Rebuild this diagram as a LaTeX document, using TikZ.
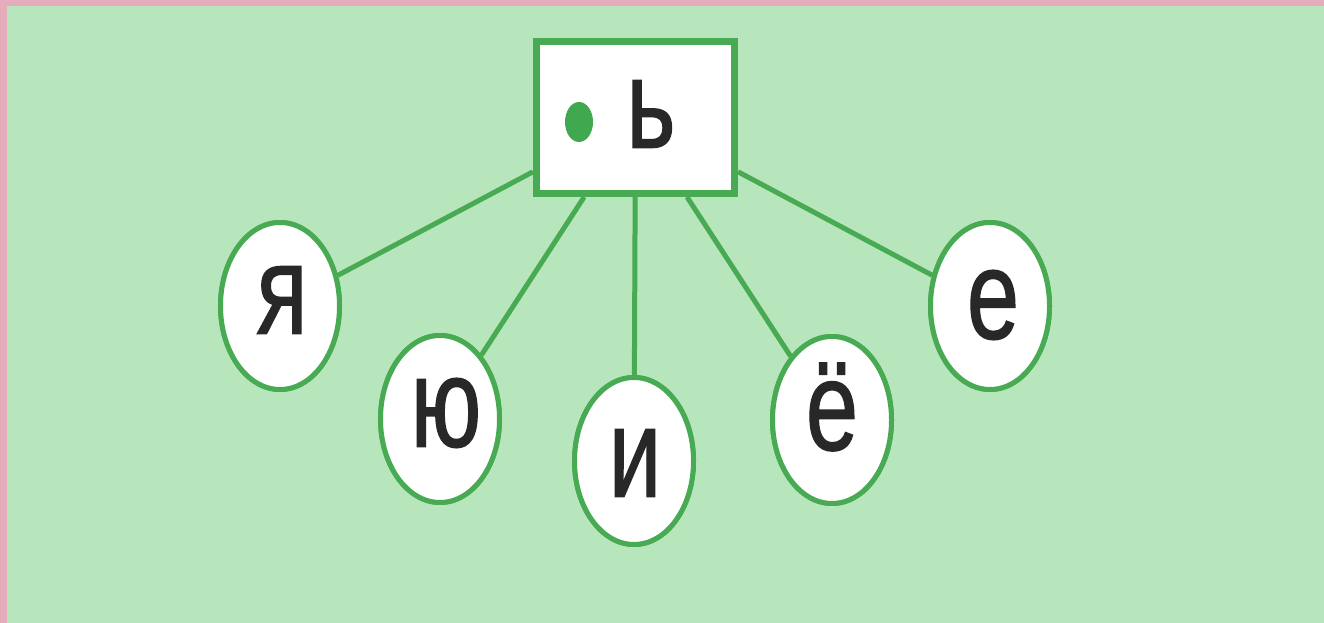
\documentclass[tikz,border=0pt]{standalone}
\usepackage{fontspec}
\setmainfont{Liberation Sans}
\newfontfamily\letterfont{Liberation Sans}[FakeBold=1.2]
\usetikzlibrary{shapes.geometric}
\definecolor{bggreen}{RGB}{184,230,188}
\definecolor{pinkedge}{RGB}{230,172,188}
\definecolor{linegreen}{RGB}{72,170,82}
\definecolor{dotgreen}{RGB}{64,168,78}
\definecolor{ink}{RGB}{40,40,40}
\tikzset{
  vowel/.style={ellipse, draw=linegreen, line width=5pt, fill=white,
    minimum width=119pt, minimum height=167pt, inner sep=0pt},
  letter/.style={inner sep=0pt, text=ink,
    font=\letterfont\fontsize{127}{127}\selectfont},
  signbox/.style={rectangle, draw=linegreen, line width=7pt, fill=white,
    minimum width=198pt, minimum height=152pt, inner sep=0pt},
  link/.style={draw=linegreen, line width=5pt}
}
\newcommand{\narrow}[1]{\scalebox{0.74}[1]{#1}}
\begin{document}
\begin{tikzpicture}[x=1pt,y=1pt]
\useasboundingbox (0,0) rectangle (1324,623);
\fill[pinkedge] (0,0) rectangle (1324,623);
\fill[bggreen] (7,0) rectangle (1324,617);
% nodes
\node[signbox] (box) at (635.5,505.5) {};
\node[vowel] (ya) at (280,317) {};
\node[vowel] (yu) at (440,204) {};
\node[vowel] (i) at (634,162) {};
\node[vowel] (yo) at (832,203) {};
\node[vowel] (e) at (990,317) {};
% connectors
\draw[link] (box) -- (ya);
\draw[link] (box) -- (yu);
\draw[link] (box) -- (i);
\draw[link] (box) -- (yo);
\draw[link] (box) -- (e);
% redraw nodes on top of links
\node[signbox] at (box.center) {};
\foreach \n in {ya,yu,i,yo,e} {\node[vowel] at (\n.center) {};}
% texts
\node[ellipse, fill=dotgreen, minimum width=28pt, minimum height=40pt, inner sep=0pt] (dot) at (579,501) {};
\node[letter] (tsoft) at (651,509) {\narrow{ь}};
\node[letter] (tya) at (282,323) {\narrow{я}};
\node[letter] (tyu) at (446,210) {\narrow{ю}};
\node[letter] (ti) at (635,160) {\narrow{и}};
\node[letter] (tyo) at (832,216) {\narrow{ё}};
\node[letter] (te) at (993,318) {\narrow{е}};
\end{tikzpicture}
\end{document}
